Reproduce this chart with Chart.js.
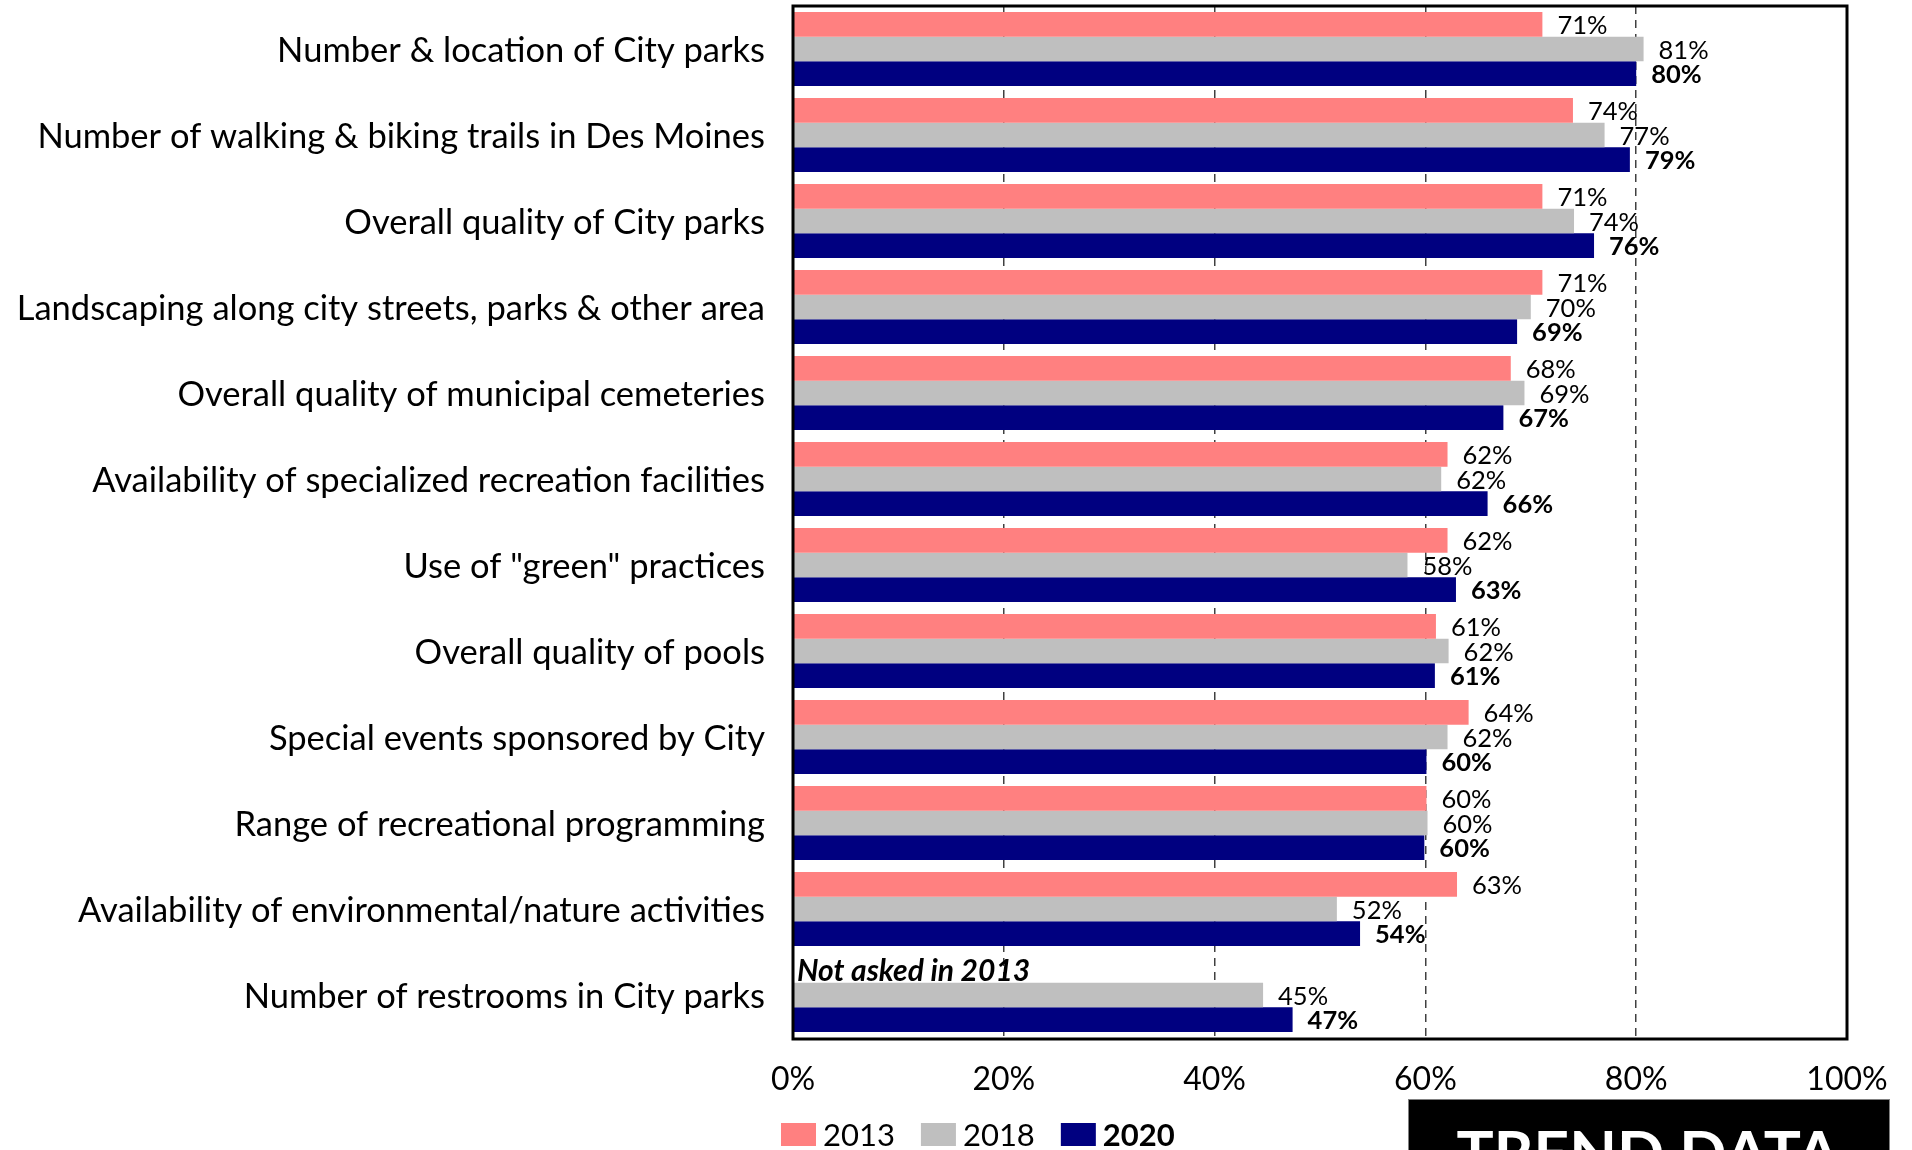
<!DOCTYPE html>
<html><head><meta charset="utf-8">
<script src="https://cdn.jsdelivr.net/npm/chart.js@4.4.1/dist/chart.umd.min.js"></script>
<style>html,body{margin:0;padding:0;background:#fff;overflow:hidden}canvas{display:block}</style>
</head><body>
<canvas id="c" width="1912" height="1150"></canvas>
<script>
const categories = [
  'Number & location of City parks',
  'Number of walking & biking trails in Des Moines',
  'Overall quality of City parks',
  'Landscaping along city streets, parks & other area',
  'Overall quality of municipal cemeteries',
  'Availability of specialized recreation facilities',
  'Use of "green" practices',
  'Overall quality of pools',
  'Special events sponsored by City',
  'Range of recreational programming',
  'Availability of environmental/nature activities',
  'Number of restrooms in City parks'
];
const seriesNames = ['2013', '2018', '2020'];
const values2013 = [71.1, 74.0, 71.1, 71.1, 68.1, 62.1, 62.1, 61.0, 64.1, 60.1, 63.0, null];
const values2018 = [80.7, 77.0, 74.1, 70.0, 69.4, 61.5, 58.3, 62.2, 62.1, 60.2, 51.6, 44.6];
const values2020 = [80.0, 79.4, 76.0, 68.7, 67.4, 65.9, 62.9, 60.9, 60.1, 59.9, 53.8, 47.4];
const xTickLabels = ['0%', '20%', '40%', '60%', '80%', '100%'];
const noteText = 'Not asked in 2013';
const badgeText = 'TREND DATA';

const colors = ['#FF8080', '#BFBFBF', '#000080'];
const FONT = 'Lato, "Open Sans", sans-serif';

const dataLabelPlugin = {
  id: 'dataLabels',
  afterDatasetsDraw(chart) {
    const ctx = chart.ctx;
    ctx.save();
    ctx.fillStyle = '#000';
    ctx.textAlign = 'left';
    ctx.textBaseline = 'middle';
    chart.data.datasets.forEach((ds, di) => {
      const meta = chart.getDatasetMeta(di);
      ctx.font = (di === 2 ? 'bold ' : '') + '25.5px ' + FONT;
      meta.data.forEach((el, i) => {
        const v = ds.data[i];
        if (v === null || v === undefined) return;
        ctx.fillText(Math.round(v) + '%', el.x + 15, el.y + 1.5);
      });
    });
    // note for missing 2013 value
    const meta0 = chart.getDatasetMeta(0);
    const last = meta0.data[categories.length - 1];
    const ca = chart.chartArea;
    ctx.font = 'italic bold 30px ' + FONT;
    ctx.fillText(noteText, ca.left + 4, last.y + 1);
    ctx.restore();
  },
  afterDraw(chart) {
    const ctx = chart.ctx;
    const ca = chart.chartArea;
    ctx.save();
    // frame
    ctx.strokeStyle = '#000';
    ctx.lineWidth = 3;
    ctx.strokeRect(ca.left, ca.top, ca.right - ca.left, ca.bottom - ca.top + 1);
    // legend
    let x = 781;
    const by = 1123, bw = 35, bh = 23;
    ctx.textBaseline = 'middle';
    ctx.textAlign = 'left';
    chart.data.datasets.forEach((ds, di) => {
      ctx.fillStyle = ds.backgroundColor;
      ctx.fillRect(x, by, bw, bh);
      ctx.fillStyle = '#000';
      ctx.font = (di === 2 ? 'bold ' : '') + '31px ' + FONT;
      ctx.fillText(ds.label, x + bw + 7, by + bh / 2 + 1);
      x += bw + 7 + ctx.measureText(ds.label).width + 26;
    });
    // trend data badge
    ctx.fillStyle = '#000';
    ctx.fillRect(1408, 1099, 482, 60);
    ctx.strokeStyle = '#808080';
    ctx.lineWidth = 1;
    ctx.strokeRect(1408.5, 1099.5, 481, 60);
    ctx.fillStyle = '#fff';
    ctx.font = 'bold 62px ' + FONT;
    ctx.textAlign = 'center';
    ctx.textBaseline = 'alphabetic';
    ctx.fillText(badgeText, 1648, 1175);
    ctx.restore();
  }
};

new Chart(document.getElementById('c'), {
  type: 'bar',
  data: {
    labels: categories,
    datasets: [
      { label: seriesNames[0], data: values2013, backgroundColor: colors[0] },
      { label: seriesNames[1], data: values2018, backgroundColor: colors[1] },
      { label: seriesNames[2], data: values2020, backgroundColor: colors[2] }
    ]
  },
  options: {
    indexAxis: 'y',
    responsive: false,
    animation: false,
    devicePixelRatio: 1,
    categoryPercentage: 0.86,
    barPercentage: 1.0,
    layout: { padding: { top: 6, right: 65, bottom: 0, left: 0 } },
    plugins: { legend: { display: false }, tooltip: { enabled: false } },
    scales: {
      x: {
        min: 0, max: 100,
        afterFit(scale) { scale.height = 112; },
        grid: {
          color: (c) => (c.tick && (c.tick.value === 0 || c.tick.value === 100)) ? 'rgba(0,0,0,0)' : '#404040',
          lineWidth: 1.5,
          drawTicks: false
        },
        border: { display: false, dash: [8, 6] },
        ticks: {
          stepSize: 20,
          padding: 22,
          maxRotation: 0,
          color: '#000',
          font: { family: FONT, size: 32 },
          callback: (v, i) => xTickLabels[i]
        }
      },
      y: {
        afterFit(scale) { scale.width = 793; },
        grid: {
          display: true,
          drawOnChartArea: false,
          drawTicks: true,
          tickLength: 28,
          color: 'rgba(0,0,0,0)'
        },
        border: { display: false },
        ticks: {
          autoSkip: false,
          padding: 0,
          labelOffset: 2,
          color: '#000',
          font: { family: FONT, size: 34.5, lineHeight: 0.3 }
        }
      }
    }
  },
  plugins: [dataLabelPlugin]
});
</script>
</body></html>
